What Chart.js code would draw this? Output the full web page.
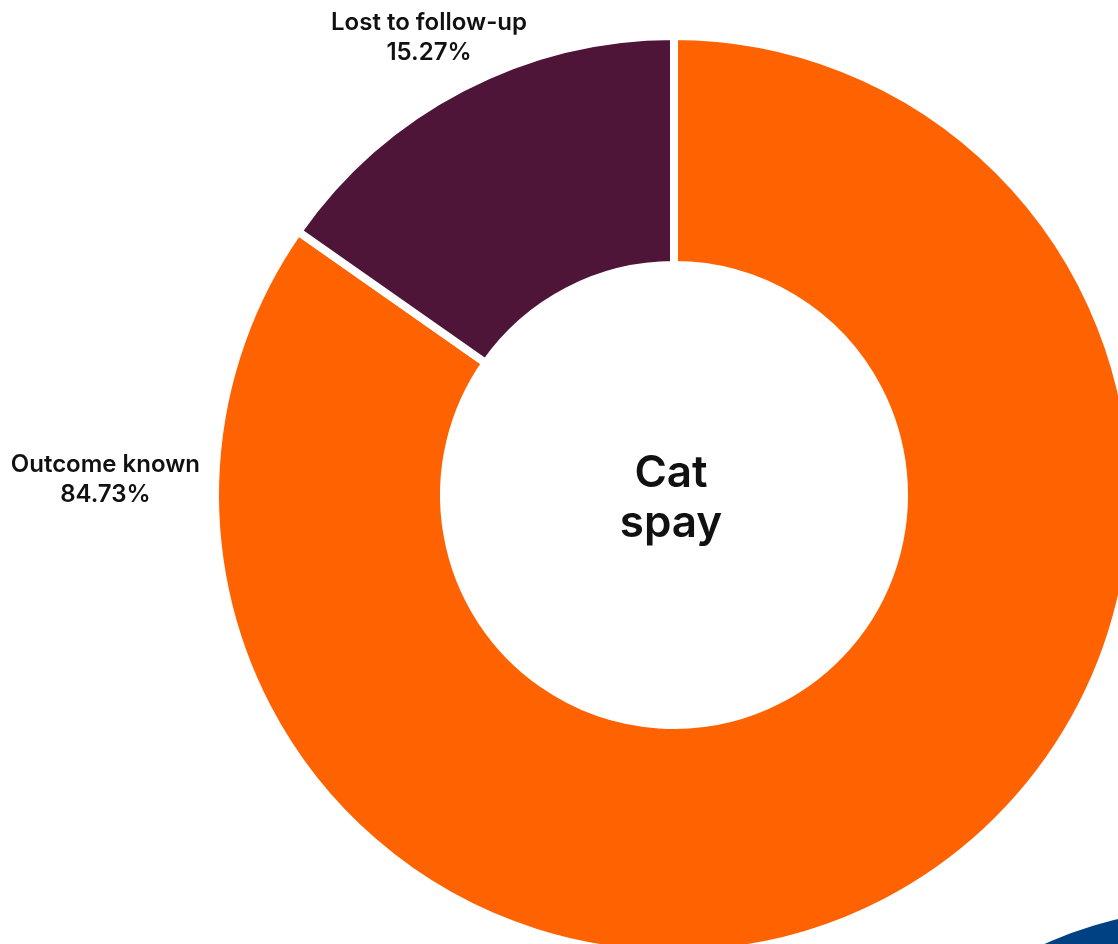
<!DOCTYPE html>
<html>
<head>
<meta charset="utf-8">
<script src="https://cdn.jsdelivr.net/npm/chart.js@4.4.8/dist/chart.umd.min.js"></script>
<style>
  html, body { margin: 0; padding: 0; width: 1118px; height: 944px; overflow: hidden; background: #fff; }
  #main { position: absolute; left: 0; top: 0; }
  #next { position: absolute; left: 766px; top: 901px; }
</style>
</head>
<body>
<canvas id="main" width="1348" height="990"></canvas>
<canvas id="next" width="920" height="920"></canvas>
<script>
  // data
  const categories = ['Outcome known', 'Lost to follow-up'];
  const percentages = [84.73, 15.27];
  const sliceColours = ['#FF6200', '#4E1538'];
  const centreTitle = ['Cat', 'spay'];

  // neighbouring chart, only its top-left edge shows in the corner
  const neighbourLabels = ['next'];
  const neighbourValues = [100];
  const neighbourColours = ['#004183'];

  const FONT = 'Inter, "Noto Sans", sans-serif';
  const GAP = 8;
  const OUTER = 455, INNER = 234;

  // text round the ring and in its hole
  const ringText = {
    id: 'ringText',
    afterDatasetsDraw(chart) {
      const c = chart.ctx;
      const arcs = chart.getDatasetMeta(0).data;
      c.save();
      c.fillStyle = '#111';
      c.textBaseline = 'alphabetic';
      c.textAlign = 'center';
      c.font = '600 24px ' + FONT;
      arcs.forEach((arc, i) => {
        const p = arc.getProps(['x', 'y', 'startAngle', 'endAngle'], true);
        const lines = [categories[i], percentages[i].toFixed(2) + '%'];
        let cx, b1;
        if (i === 0) {
          // left of the ring, right edge kept off the ring
          const w = Math.max(...lines.map(t => c.measureText(t).width));
          cx = p.x - OUTER - 19 - w / 2;
          b1 = p.y - 23;
        } else {
          const mid = (p.startAngle + p.endAngle) / 2;
          const ax = p.x + Math.cos(mid) * OUTER;
          const ay = p.y + Math.sin(mid) * OUTER;
          cx = ax - 35;
          b1 = ay - 61;
        }
        c.fillText(lines[0], cx, b1);
        c.fillText(lines[1], cx, b1 + 30);
      });
      const p0 = arcs[0].getProps(['x', 'y'], true);
      c.font = '600 44px ' + FONT;
      c.fillText(centreTitle[0], p0.x - 3, p0.y - 8);
      c.fillText(centreTitle[1], p0.x - 3, p0.y + 42);
      c.restore();
    }
  };

  new Chart(document.getElementById('main'), {
    type: 'doughnut',
    data: {
      labels: categories,
      datasets: [{
        data: percentages,
        backgroundColor: sliceColours,
        borderColor: '#ffffff',
        borderWidth: GAP,
        hoverOffset: 0
      }]
    },
    options: {
      responsive: false,
      animation: false,
      devicePixelRatio: 1,
      radius: OUTER + GAP / 2,
      cutout: ((INNER - GAP / 2) / (OUTER + GAP / 2) * 100) + '%',
      rotation: 0,
      plugins: { legend: { display: false }, tooltip: { enabled: false } }
    },
    plugins: [ringText]
  });

  new Chart(document.getElementById('next'), {
    type: 'doughnut',
    data: {
      labels: neighbourLabels,
      datasets: [{
        data: neighbourValues,
        backgroundColor: neighbourColours,
        borderWidth: 0
      }]
    },
    options: {
      responsive: false,
      animation: false,
      devicePixelRatio: 1,
      radius: OUTER,
      cutout: (INNER / OUTER * 100) + '%',
      plugins: { legend: { display: false }, tooltip: { enabled: false } }
    }
  });
</script>
</body>
</html>
